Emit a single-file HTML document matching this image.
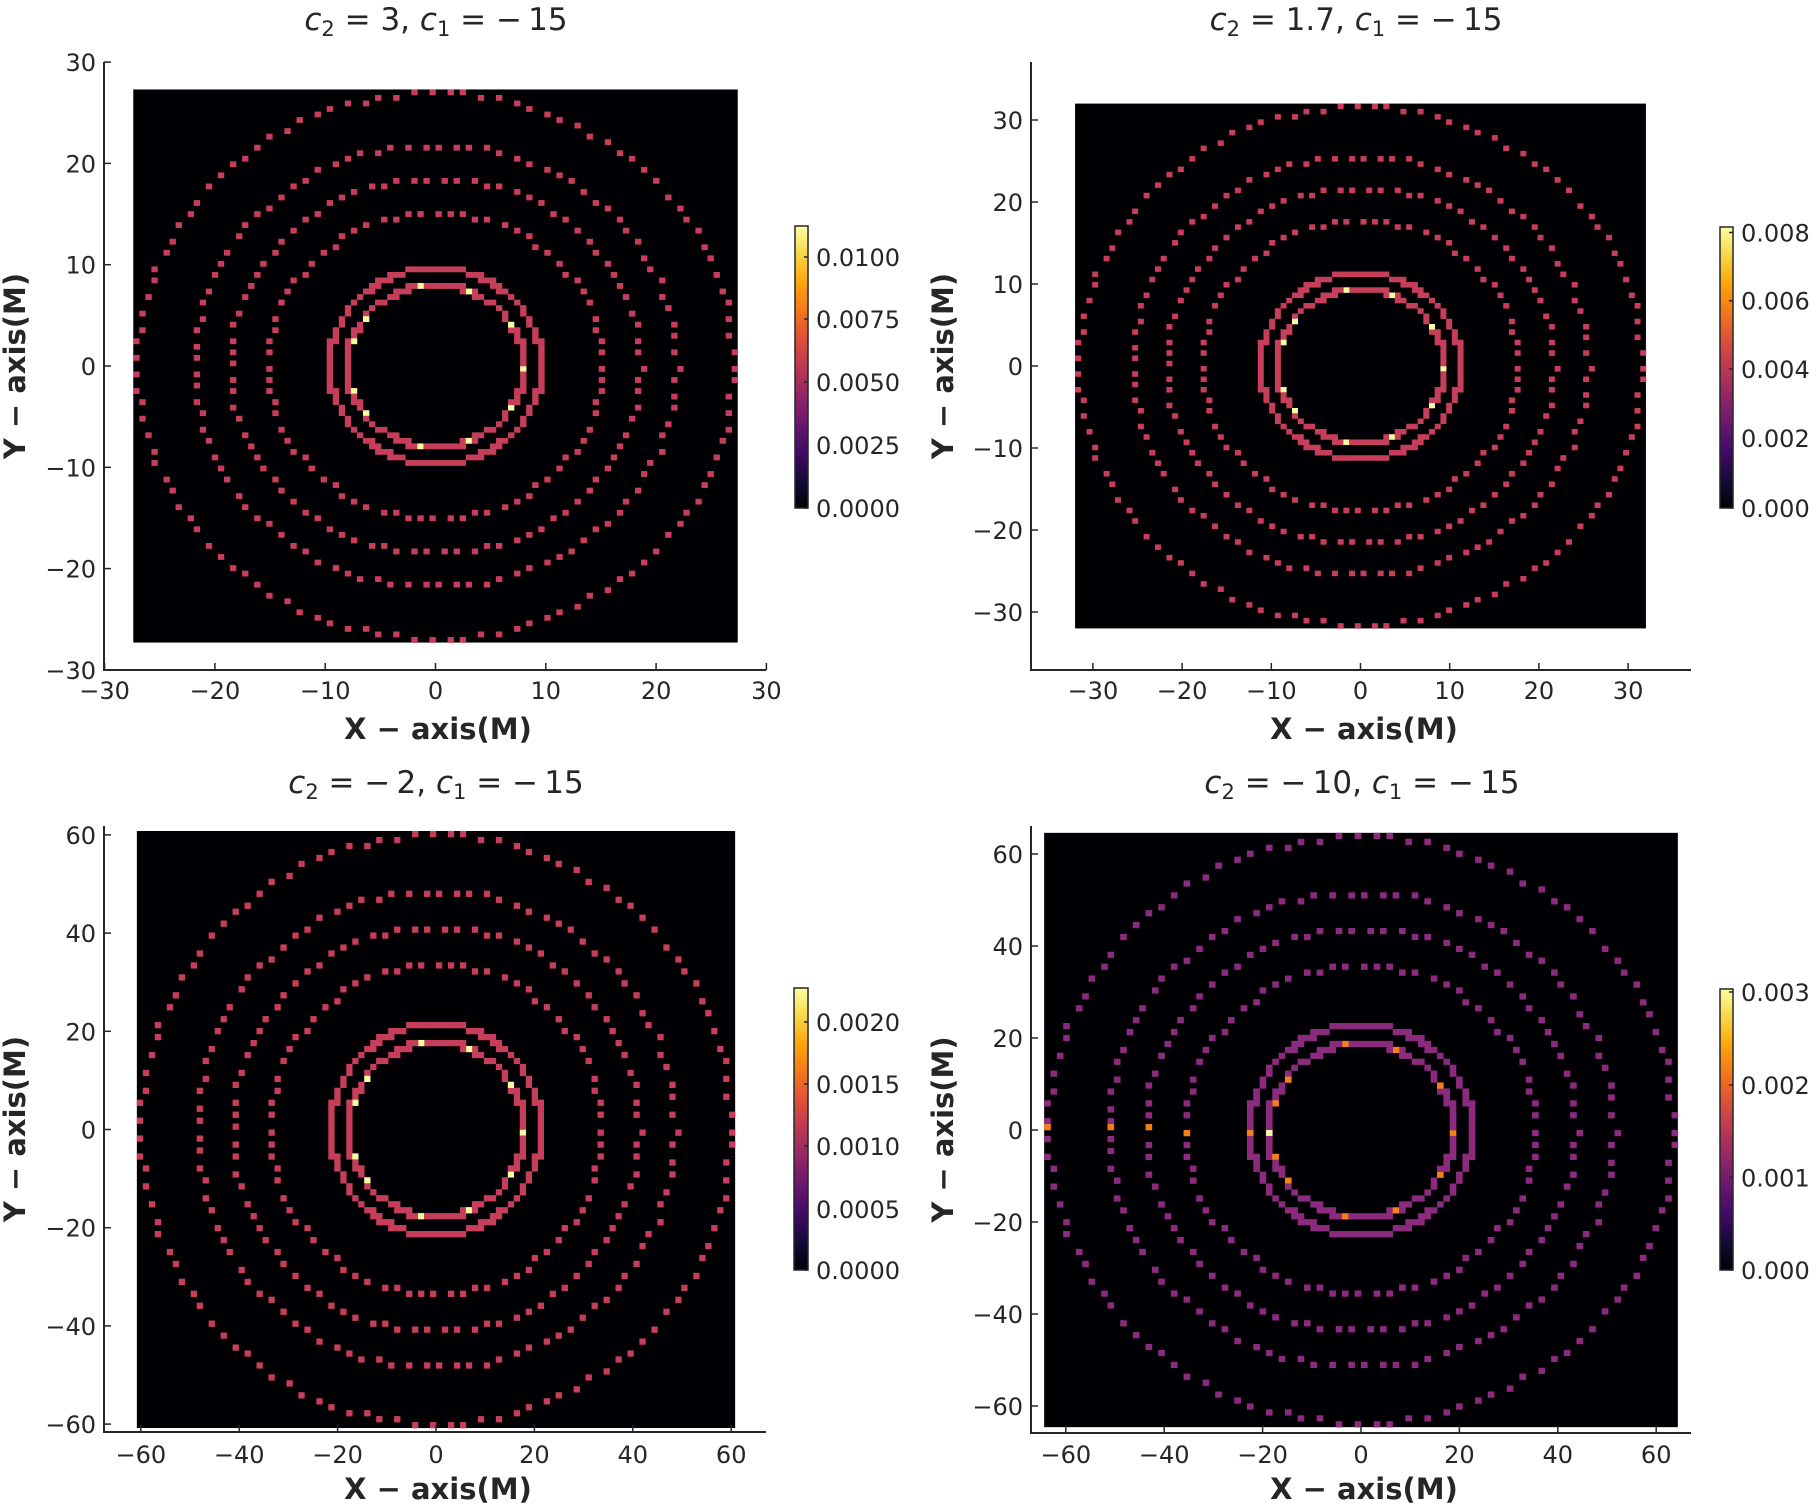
<!DOCTYPE html>
<html><head><meta charset="utf-8">
<style>
html,body{margin:0;padding:0;background:#fff;}
svg{display:block;}
text{font-family:"DejaVu Sans","Liberation Sans",sans-serif;fill:#262626;}
</style></head>
<body>
<svg id="s" width="1817" height="1507" viewBox="0 0 1817 1507" xmlns="http://www.w3.org/2000/svg">
<defs>
<linearGradient id="inf" x1="0" y1="1" x2="0" y2="0">
<stop offset="0" stop-color="#000004"/><stop offset="0.1" stop-color="#160b39"/>
<stop offset="0.2" stop-color="#420a68"/><stop offset="0.3" stop-color="#6a176e"/>
<stop offset="0.4" stop-color="#932667"/><stop offset="0.5" stop-color="#bc3754"/>
<stop offset="0.6" stop-color="#dd513a"/><stop offset="0.7" stop-color="#f37819"/>
<stop offset="0.8" stop-color="#fca50a"/><stop offset="0.9" stop-color="#f6d746"/>
<stop offset="1" stop-color="#fcffa4"/>
</linearGradient>
</defs>
<g id="g"></g>
</svg>
<script>
const P=[
{cx:435.5,kx:11.03,cy:366,ky:10.13,Ex:27.4,Ey:27.3,sx:104,st:62,sb:670,sr:766,t:[-30,-20,-10,0,10,20,30],yt:[-30,-20,-10,0,10,20,30],
 cb:[795,226,808,508],cbt:[["0.0100",257],["0.0075",319],["0.0050",382],["0.0025",445],["0.0000",508]],title:"3",tx:436,ty:19,xl:728,xtl:690,ylx:14,col:"#c73e5a",hi:"#fbfca0",p4:false},
{cx:1360.5,kx:8.92,cy:366,ky:8.2,Ex:32,Ey:32,sx:1031,st:62,sb:670,sr:1691,t:[-30,-20,-10,0,10,20,30],yt:[-30,-20,-10,0,10,20,30],
 cb:[1720,227,1733,508],cbt:[["0.008",232.5],["0.006",300.7],["0.004",369],["0.002",438],["0.000",508]],title:"1.7",tx:1356,ty:19,xl:728,xtl:690,ylx:942,col:"#c73e5a",hi:"#fbfca0",p4:false},
{cx:436,kx:4.92,cy:1129.5,ky:4.91,Ex:60.8,Ey:60.8,sx:104,st:826,sb:1432,sr:766,t:[-60,-40,-20,0,20,40,60],yt:[-60,-40,-20,0,20,40,60],
 cb:[794,988,808,1270],cbt:[["0.0020",1022],["0.0015",1084],["0.0010",1146],["0.0005",1209],["0.0000",1270]],title:"\u2212\u20092",tx:436,ty:782,xl:1488,xtl:1454,ylx:14,col:"#c73e5a",hi:"#fbfca0",p4:false},
{cx:1361,kx:4.92,cy:1130,ky:4.6,Ex:64.4,Ey:64.6,sx:1031,st:826,sb:1433,sr:1691,t:[-60,-40,-20,0,20,40,60],yt:[-60,-40,-20,0,20,40,60],
 cb:[1720,989,1733,1270],cbt:[["0.003",992],["0.002",1085],["0.001",1177.5],["0.000",1270]],title:"\u2212\u200910",tx:1362,ty:782,xl:1488,xtl:1454,ylx:942,col:"#8c2a7d",hi:"#f5801a",p4:true}
];
const R=[[14.6,0.7],[17.6,0.7],[27.5,2.3],[34,2.5],[40,2.6],[49.3,2.8]];
const HA=[0,32,68,100,144,162,-32,-68,-100,-144,-162];
let o="";
function fmt(v){return v<0?"\u2212"+(-v):""+v;}
for(const p of P){
  const x0=p.cx-p.kx*p.Ex, y0=p.cy-p.ky*p.Ey, W=2*p.Ex*p.kx, H=2*p.Ey*p.ky;
  const cw=W/100, ch=H/100;
  o+=`<rect x="${x0}" y="${y0}" width="${W}" height="${H}" fill="#000004"/>`;
  const cells=new Map();
  R.forEach((r,ri)=>{
    const n=Math.ceil(2*Math.PI*r[0]/r[1]);
    for(let k=0;k<n;k++){const a=2*Math.PI*k/n;
      const i=Math.floor(r[0]*Math.cos(a)+50), j=Math.floor(-r[0]*Math.sin(a)+50);
      if(i<0||i>99||j<0||j>99)continue;
      const key=i+","+j; if(!cells.has(key))cells.set(key,p.col);}
  });
  const mark=(r,deg,c)=>{const a=deg*Math.PI/180;const i=Math.floor(r*Math.cos(a)+50),j=Math.floor(-r*Math.sin(a)+50);cells.set(i+","+j,c);};
  HA.forEach(d=>mark(14.6,d,p.hi));
  if(p.p4){mark(14.6,180,"#fcf5b0");[17.6,27.5,34,40,49.3].forEach(r=>mark(r,180,"#f5801a"));}
  for(const [k,c] of cells){const [i,j]=k.split(",").map(Number);
    o+=`<rect x="${(x0+i*cw).toFixed(2)}" y="${(y0+j*ch).toFixed(2)}" width="${(cw+0.3).toFixed(2)}" height="${(ch+0.3).toFixed(2)}" fill="${c}"/>`;}
  o+=`<line x1="${p.sx}" y1="${p.st}" x2="${p.sx}" y2="${p.sb+1}" stroke="#262626" stroke-width="2"/>`;
  o+=`<line x1="${p.sx-1}" y1="${p.sb}" x2="${p.sr}" y2="${p.sb}" stroke="#262626" stroke-width="2"/>`;
  for(const v of p.t){const x=p.cx+p.kx*v;
    o+=`<line x1="${x}" y1="${p.sb}" x2="${x}" y2="${p.sb-7}" stroke="#262626" stroke-width="1.5"/>`;
    o+=`<text x="${x}" y="${p.xtl+9}" font-size="24" text-anchor="middle">${fmt(v)}</text>`;}
  for(const v of p.yt){const y=p.cy-p.ky*v;
    o+=`<line x1="${p.sx}" y1="${y}" x2="${p.sx+7}" y2="${y}" stroke="#262626" stroke-width="1.5"/>`;
    o+=`<text x="${p.sx-8}" y="${y+9}" font-size="24" text-anchor="end">${fmt(v)}</text>`;}
  o+=`<text x="${p.tx}" y="${p.ty+11}" font-size="31" text-anchor="middle" fill="#333"><tspan font-style="italic">c</tspan><tspan font-size="21" dy="6">2</tspan><tspan dy="-6"> = ${p.title}, </tspan><tspan font-style="italic">c</tspan><tspan font-size="21" dy="6">1</tspan><tspan dy="-6"> = \u2212\u200915</tspan></text>`;
  const mx=(p.sx+p.sr)/2+3;
  o+=`<text x="${mx}" y="${p.xl+11}" font-size="29" font-weight="bold" text-anchor="middle">X \u2212 axis(M)</text>`;
  const my=(p.st+p.sb)/2;
  o+=`<text transform="translate(${p.ylx+11},${my}) rotate(-90)" font-size="29" font-weight="bold" text-anchor="middle">Y \u2212 axis(M)</text>`;
  const [a,b,c,d]=p.cb;
  o+=`<rect x="${a}" y="${b}" width="${c-a}" height="${d-b}" fill="url(#inf)" stroke="#262626" stroke-width="1.5"/>`;
  for(const [l,y] of p.cbt){
    o+=`<line x1="${c}" y1="${y}" x2="${c-4}" y2="${y}" stroke="#262626" stroke-width="1.5"/>`;
    o+=`<text x="${c+8}" y="${y+9}" font-size="24">${l}</text>`;}
}
document.getElementById("g").innerHTML=o;
</script>
</body></html>
